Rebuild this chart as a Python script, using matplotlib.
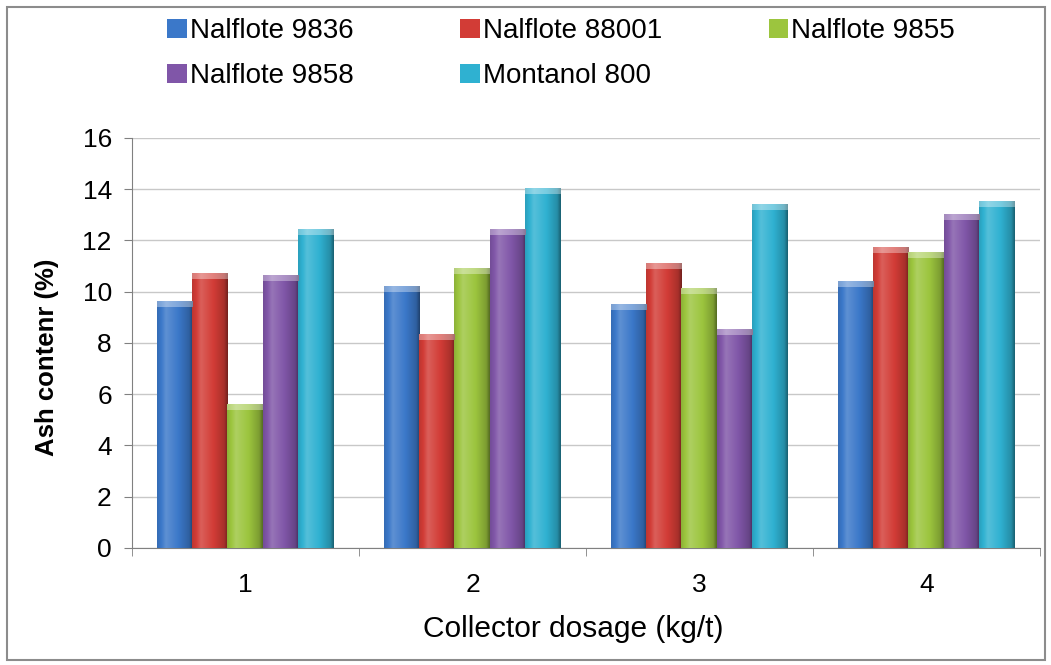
import numpy as np
import matplotlib.pyplot as plt
from matplotlib.colors import to_rgb
from matplotlib.patches import Rectangle

plt.rcParams['font.family'] = ['Liberation Sans', 'DejaVu Sans']

# data
dosages = ['1', '2', '3', '4']
series = ['Nalflote 9836', 'Nalflote 88001', 'Nalflote 9855', 'Nalflote 9858', 'Montanol 800']
nalflote_9836 = [9.6, 10.2, 9.5, 10.4]
nalflote_88001 = [10.7, 8.3, 11.1, 11.7]
nalflote_9855 = [5.6, 10.9, 10.1, 11.5]
nalflote_9858 = [10.6, 12.4, 8.5, 13.0]
montanol_800 = [12.4, 14.0, 13.4, 13.5]
values = [nalflote_9836, nalflote_88001, nalflote_9855, nalflote_9858, montanol_800]
colors = ['#3b78c9', '#d23c36', '#9cc53e', '#8056a8', '#2fb1d1']


def shade(color, n=64):
    # cylinder-ish horizontal shading, like the office 3D bar style
    base = np.array(to_rgb(color))
    t = np.linspace(0, 1, n)
    f = np.interp(t, [0, 0.25, 0.6, 0.9, 1.0], [0.9, 1.12, 1.0, 0.8, 0.55])
    rgb = np.clip(base[None, :] * f[:, None], 0, 1)
    rgb = np.where(f[:, None] > 1, base + (1 - base) * (f[:, None] - 1) * 1.5, rgb)
    return np.clip(rgb, 0, 1)[None, :, :]


fig = plt.figure(figsize=(10.51, 6.65), dpi=100)
ax = fig.add_axes([0.1256, 0.176, 0.864, 0.6165])

x = np.arange(len(dosages))
width = 0.155
handles = []
for i, (name, vals, c) in enumerate(zip(series, values, colors)):
    pos = x - 0.39 + width / 2 + i * width
    bars = ax.bar(pos, vals, width, color=c, label=name, zorder=3)
    handles.append(bars)
    img = shade(c)
    cap = np.clip(img + (1 - img) * 0.35, 0, 1)
    for b in bars:
        bx, bw, bh = b.get_x(), b.get_width(), b.get_height()
        ax.imshow(img, extent=[bx, bx + bw, 0, bh], aspect='auto', zorder=4,
                  interpolation='bilinear')
        # lighter cap on top
        ax.imshow(cap, extent=[bx, bx + bw, bh - 0.2, bh], aspect='auto', zorder=5,
                  interpolation='bilinear')

ax.set_xlim(-0.5, len(dosages) - 0.5)
ax.set_ylim(0, 16)
ax.set_yticks(np.arange(0, 17, 2))
ax.set_xticks(x)
ax.set_xticklabels(dosages)
ax.set_xticks(np.arange(-0.5, len(dosages), 1), minor=True)
ax.tick_params(axis='x', which='major', length=0, pad=18, labelsize=19)
ax.tick_params(axis='x', which='minor', length=6, color='#808080')
ax.tick_params(axis='y', length=6, color='#808080', labelsize=19, pad=8.5)
ax.grid(axis='y', color='#c8c8c8', linewidth=1, zorder=0)
ax.set_axisbelow(True)
for s in ['top', 'right']:
    ax.spines[s].set_visible(False)
for s in ['left', 'bottom']:
    ax.spines[s].set_color('#808080')

ax.set_ylabel('Ash contenr (%)', fontsize=18.5, fontweight='bold')
ax.yaxis.set_label_coords(-0.080, 0.466)
ax.set_xlabel('Collector dosage (kg/t)', fontsize=21.5)
ax.xaxis.set_label_coords(0.486, -0.163)

# row-major legend order for a column-major fill
order = [0, 3, 1, 4, 2]
fig.legend([handles[k] for k in order], [series[k] for k in order],
           ncol=3, loc='upper left', bbox_to_anchor=(0.1434, 0.998),
           frameon=False, fontsize=20, handlelength=0.7, handleheight=0.7,
           handletextpad=0.1, columnspacing=3.85, labelspacing=0.69,
           borderpad=0.1)

fig.patches.append(Rectangle((0.007, 0.008), 0.987, 0.982, transform=fig.transFigure,
                             fill=False, edgecolor='#8c8c8c', linewidth=1.5))

fig.savefig('out.png', dpi=100)
